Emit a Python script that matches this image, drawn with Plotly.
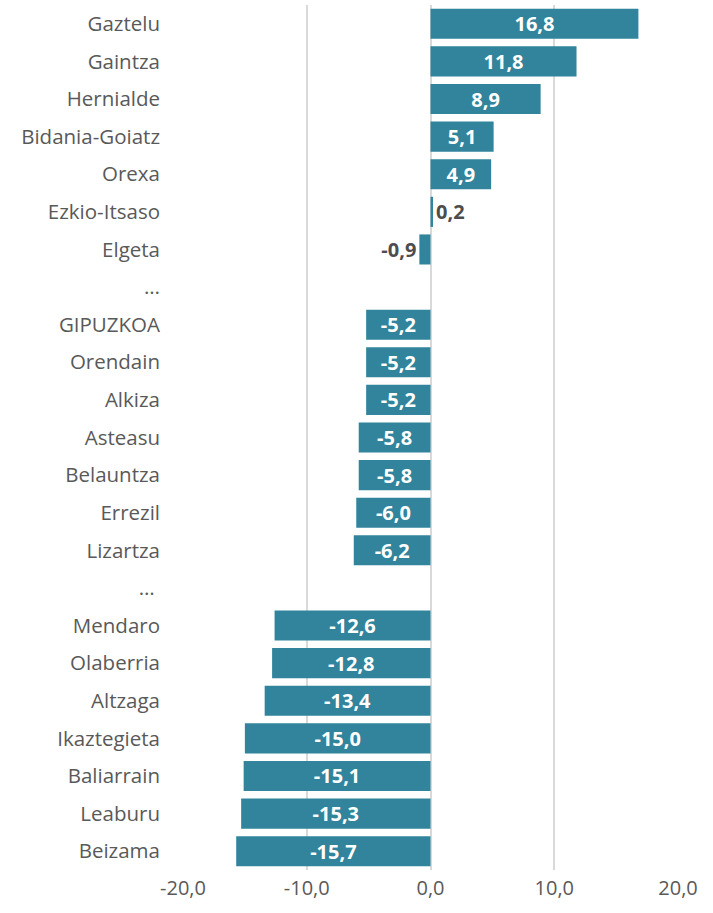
import plotly.graph_objects as go

# Municipalities (top to bottom) and their percentage change
municipios = [
    "Gaztelu", "Gaintza", "Hernialde", "Bidania-Goiatz", "Orexa", "Ezkio-Itsaso",
    "Elgeta", "…", "GIPUZKOA", "Orendain", "Alkiza", "Asteasu", "Belauntza",
    "Errezil", "Lizartza", "… ", "Mendaro", "Olaberria", "Altzaga", "Ikaztegieta",
    "Baliarrain", "Leaburu", "Beizama",
]
valores = [
    16.8, 11.8, 8.9, 5.1, 4.9, 0.2,
    -0.9, None, -5.2, -5.2, -5.2, -5.8, -5.8,
    -6.0, -6.2, None, -12.6, -12.8, -13.4, -15.0,
    -15.1, -15.3, -15.7,
]
x_ticks = [-20, -10, 0, 10, 20]
x_tick_labels = ["-20,0", "-10,0", "0,0", "10,0", "20,0"]

BAR = "#31849B"
GRAY = "#595959"
DARK = "#4D4D4D"
FONT = "Open Sans"

labels = ["" if v is None else f"{v:.1f}".replace(".", ",") for v in valores]
positions = ["outside" if (v is not None and abs(v) < 2) else "inside" for v in valores]

fig = go.Figure(
    go.Bar(
        y=municipios,
        x=valores,
        orientation="h",
        marker=dict(color=BAR, line=dict(width=0)),
        text=labels,
        textposition=positions,
        insidetextanchor="middle",
        constraintext="none",
        insidetextfont=dict(color="white", size=20, family=FONT, weight="bold"),
        outsidetextfont=dict(color=DARK, size=20, family=FONT, weight="bold"),
        textangle=0,
        cliponaxis=False,
        hoverinfo="skip",
    )
)

fig.update_layout(
    width=713,
    height=913,
    margin=dict(l=183, r=35, t=5, b=43),
    paper_bgcolor="white",
    plot_bgcolor="white",
    bargap=0.2,
    showlegend=False,
    font=dict(family=FONT, size=20, color=GRAY),
)

fig.update_xaxes(
    range=[-20, 20],
    tickvals=x_ticks,
    ticktext=x_tick_labels,
    showgrid=True,
    gridcolor="#D9D9D9",
    gridwidth=1.5,
    zeroline=False,
    showline=False,
    ticks="",
    tickfont=dict(size=20, color=GRAY, family=FONT),
    ticklabelstandoff=4,
)

fig.update_yaxes(
    categoryorder="array",
    categoryarray=municipios,
    autorange="reversed",
    showgrid=False,
    zeroline=False,
    showline=False,
    ticks="",
    tickfont=dict(size=20.5, color=GRAY, family=FONT),
    ticklabelstandoff=22,
)

fig.write_html("out.html")
